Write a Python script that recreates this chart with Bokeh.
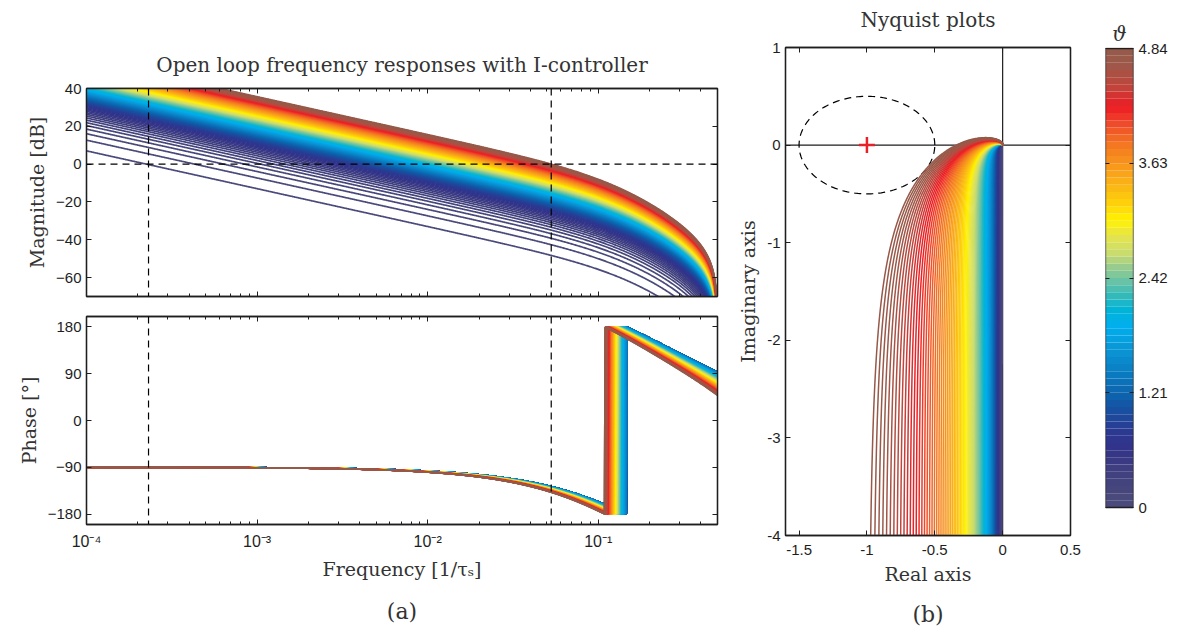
import numpy as np
from bokeh.plotting import figure
from bokeh.layouts import row, column
from bokeh.models import Range1d, FixedTicker, LinearAxis, LogAxis, Span
from bokeh.embed import file_html
from bokeh.resources import INLINE

# ---------------- data ----------------
theta_max = 4.84
theta_step = 0.0484
theta = [k * theta_step for k in range(101)]
# loop gain of every curve relative to the top curve (read from the low-frequency
# magnitude levels and the Nyquist real-axis asymptotes)
gain_rel = [0.0037, 0.0071, 0.0105, 0.0139, 0.0173, 0.0206, 0.0240, 0.0274, 0.0308, 0.0342,
            0.0376, 0.0411, 0.0445, 0.0479, 0.0514, 0.0549, 0.0583, 0.0618, 0.0654, 0.0689,
            0.0725, 0.0761, 0.0798, 0.0835, 0.0872, 0.0910, 0.0948, 0.0987, 0.1026, 0.1066,
            0.1107, 0.1148, 0.1190, 0.1233, 0.1277, 0.1321, 0.1367, 0.1414, 0.1461, 0.1510,
            0.1560, 0.1612, 0.1664, 0.1718, 0.1774, 0.1831, 0.1890, 0.1950, 0.2012, 0.2076,
            0.2142, 0.2209, 0.2279, 0.2351, 0.2425, 0.2501, 0.2580, 0.2662, 0.2745, 0.2832,
            0.2921, 0.3013, 0.3108, 0.3206, 0.3307, 0.3412, 0.3519, 0.3631, 0.3745, 0.3864,
            0.3986, 0.4112, 0.4242, 0.4376, 0.4514, 0.4656, 0.4803, 0.4955, 0.5111, 0.5272,
            0.5438, 0.5609, 0.5785, 0.5966, 0.6153, 0.6346, 0.6544, 0.6748, 0.6958, 0.7174,
            0.7396, 0.7624, 0.7860, 0.8101, 0.8350, 0.8606, 0.8869, 0.9138, 0.9416, 0.9701,
            1.0000]
crossover_freq = 0.053                 # 0 dB crossing of the top curve
theta_knee = 1.3                       # below this the phase shape no longer changes
delay_low, delay_high = 0.20, 0.41     # extra delay [tau_s] at theta_knee and theta_max
lag_low, lag_high = 0.90, 1.10         # double-lag time constant [tau_s] at theta_knee and theta_max
cb_ticks = [0, 1.21, 2.42, 3.63, 4.84]
freq_ticks = [1e-4, 1e-3, 1e-2, 1e-1]
freq_labels = ["10\u207b\u2074", "10\u207b\u00b3", "10\u207b\u00b2", "10\u207b\u00b9"]
mag_ticks = [-60, -40, -20, 0, 20, 40]
phase_ticks = [-180, -90, 0, 90, 180]
re_ticks = [-1.5, -1, -0.5, 0, 0.5]
im_ticks = [-4, -3, -2, -1, 0, 1]
marker_freqs = [2.31e-4, 0.053]
crit_point = (-1.0, 0.0)
circle_radius = 0.5

cmap_pos = [0.0, 0.016, 0.081, 0.132, 0.168, 0.212, 0.248, 0.292, 0.343, 0.394, 0.43, 0.459,
            0.495, 0.524, 0.553, 0.59, 0.626, 0.662, 0.70, 0.75, 0.786, 0.837, 0.873, 0.917, 0.97, 1.0]
cmap_hex = ["#4b4a7c", "#4a4a7c", "#3f3f80", "#32338a", "#2a3a92", "#1850a0", "#0c64ae", "#0a7cc1",
            "#0a95d5", "#00aeef", "#00b4d8", "#2fb9bb", "#6cc3a4", "#99cc8e", "#c8dc6e", "#e5e44f",
            "#fff200", "#fdd20a", "#fbb615", "#f7941d", "#f47b20", "#ef4a2a", "#ed1c24", "#c0453c",
            "#9a5a4a", "#965848"]

# ---------------- frequency responses ----------------
f = np.logspace(-4, np.log10(0.4999), 900)

def resp(fv, K, d, T):
    w = 2 * np.pi * fv
    mag = K / np.tan(np.pi * fv) / (1 + (w * T) ** 2)
    ph = -np.pi / 2 - w * d - 2 * np.arctan(w * T)
    return mag, ph

def shape_of(th):
    s = max(0.0, (th - theta_knee) / (theta_max - theta_knee))
    return delay_low + (delay_high - delay_low) * s, lag_low + (lag_high - lag_low) * s

d_top, T_top = shape_of(theta_max)
m0, _ = resp(np.array([crossover_freq]), 1.0, d_top, T_top)
K_top = 1.0 / m0[0]

def hex2rgb(h):
    return [int(h[i:i + 2], 16) for i in (1, 3, 5)]

rgb = np.array([hex2rgb(h) for h in cmap_hex], dtype=float)

def cmap(t):
    c = [int(round(np.interp(t, cmap_pos, rgb[:, k]))) for k in range(3)]
    return "#%02x%02x%02x" % tuple(c)

mag_xs, mag_ys, ph_ys, ny_xs, ny_ys, cols = [], [], [], [], [], []
for th, g in zip(theta, gain_rel):
    d, T = shape_of(th)
    mag, ph = resp(f, K_top * g, d, T)
    mag_ys.append(list(20 * np.log10(mag)))
    phd = np.degrees(ph)
    ph_ys.append(list(((phd + 180) % 360) - 180))
    L = mag * np.exp(1j * ph)
    keep = L.imag > -6
    ny_xs.append(list(L.real[keep]))
    ny_ys.append(list(L.imag[keep]))
    cols.append(cmap(th / theta_max))
    mag_xs.append(list(f))

# ---------------- styling helpers ----------------
FRAME = "#1e1e1e"
SERIF = "DejaVu Serif"
SANS = "Liberation Sans"

def style(ax, labels=True):
    ax.major_tick_in = 5
    ax.major_tick_out = 0
    ax.minor_tick_in = 3
    ax.minor_tick_out = 0
    ax.axis_line_color = FRAME
    ax.axis_line_width = 1.3
    ax.major_tick_line_color = FRAME
    ax.minor_tick_line_color = FRAME
    ax.major_label_text_font = SANS
    ax.major_label_text_font_size = "15px" if labels else "1px"
    ax.major_label_text_color = "#1e1e1e" if labels else None
    ax.major_label_standoff = 5 if labels else 0
    ax.axis_label_text_font = SERIF
    ax.axis_label_text_font_style = "normal"
    ax.axis_label_text_font_size = "19px"
    ax.axis_label_text_color = "#333333"

def base_fig(**kw):
    p = figure(output_backend="svg", toolbar_location=None, **kw)
    p.xgrid.visible = False
    p.ygrid.visible = False
    p.outline_line_color = FRAME
    p.outline_line_width = 1.3
    p.background_fill_color = "white"
    p.border_fill_color = "white"
    return p

def minor_log():
    return [m * 10.0 ** e for e in range(-4, 0) for m in range(2, 10) if m * 10.0 ** e <= 0.5]

def box_axes(p, xt, yt, xlog=False):
    top = LogAxis(ticker=xt) if xlog else LinearAxis(ticker=xt)
    style(top, labels=False)
    p.add_layout(top, "above")
    right = LinearAxis(ticker=yt)
    style(right, labels=False)
    p.add_layout(right, "right")

def label_axis(p, text, standoff, xlog=False, side="below", size="22px"):
    ax = (LogAxis if xlog else LinearAxis)(ticker=FixedTicker(ticks=[1e-9 if xlog else -99]), axis_label=text)
    style(ax, labels=False)
    ax.axis_line_color = None
    ax.major_tick_line_color = None
    ax.minor_tick_line_color = None
    ax.axis_label_text_font_size = size
    ax.axis_label_standoff = standoff
    p.add_layout(ax, side)

# ---------------- magnitude ----------------
p_mag = base_fig(width=733, height=306, x_axis_type="log",
                 x_range=Range1d(1e-4, 0.5), y_range=Range1d(-70, 40),
                 min_border_left=86, min_border_right=16, min_border_top=88, min_border_bottom=10)
p_mag.xaxis.ticker = FixedTicker(ticks=freq_ticks, minor_ticks=minor_log())
p_mag.yaxis.ticker = FixedTicker(ticks=mag_ticks)
style(p_mag.xaxis[0], labels=False)
style(p_mag.yaxis[0])
p_mag.yaxis.axis_label = "Magnitude [dB]"
box_axes(p_mag, FixedTicker(ticks=freq_ticks, minor_ticks=minor_log()), FixedTicker(ticks=mag_ticks), xlog=True)
label_axis(p_mag, "Open loop frequency responses with I-controller", 12, xlog=True, side="above", size="20px")
p_mag.multi_line(mag_xs, mag_ys, line_color=cols, line_width=1.7)
for fm in marker_freqs:
    p_mag.add_layout(Span(location=fm, dimension="height", line_color="black", line_dash="7 5", line_width=1.2))
p_mag.add_layout(Span(location=0, dimension="width", line_color="black", line_dash="7 5", line_width=1.2))

# ---------------- phase ----------------
p_ph = base_fig(width=733, height=330, x_axis_type="log",
                x_range=Range1d(1e-4, 0.5), y_range=Range1d(-200, 200),
                min_border_left=86, min_border_right=16, min_border_top=10, min_border_bottom=112)
p_ph.xaxis.ticker = FixedTicker(ticks=freq_ticks, minor_ticks=minor_log())
p_ph.yaxis.ticker = FixedTicker(ticks=phase_ticks)
style(p_ph.xaxis[0])
style(p_ph.yaxis[0])
p_ph.xaxis[0].major_label_overrides = dict(zip(freq_ticks, freq_labels))
p_ph.xaxis[0].major_label_text_font_size = "16px"
p_ph.xaxis[0].major_label_standoff = 8
p_ph.xaxis.axis_label = "Frequency [1/\u03c4\u209b]"
p_ph.yaxis.axis_label = "Phase [\u00b0]"
box_axes(p_ph, FixedTicker(ticks=freq_ticks, minor_ticks=minor_log()), FixedTicker(ticks=phase_ticks), xlog=True)
p_ph.multi_line(mag_xs, ph_ys, line_color=cols, line_width=1.7)
for fm in marker_freqs:
    p_ph.add_layout(Span(location=fm, dimension="height", line_color="black", line_dash="7 5", line_width=1.2))
label_axis(p_ph, "(a)", 16, xlog=True)

# ---------------- Nyquist ----------------
p_ny = base_fig(width=357, height=636, x_range=Range1d(-1.6, 0.5), y_range=Range1d(-4, 1),
                min_border_left=52, min_border_right=20, min_border_top=47, min_border_bottom=101)
p_ny.xaxis.ticker = FixedTicker(ticks=re_ticks)
p_ny.yaxis.ticker = FixedTicker(ticks=im_ticks)
style(p_ny.xaxis[0])
style(p_ny.yaxis[0])
p_ny.xaxis[0].major_label_standoff = 9
p_ny.xaxis[0].major_label_overrides = {t: ("%g" % t) for t in re_ticks}
p_ny.yaxis[0].major_label_overrides = {t: ("%g" % t) for t in im_ticks}
p_ny.xaxis.axis_label = "Real axis"
p_ny.yaxis.axis_label = "Imaginary axis"
box_axes(p_ny, FixedTicker(ticks=re_ticks), FixedTicker(ticks=im_ticks))
label_axis(p_ny, "Nyquist plots", 16, side="above", size="20px")
p_ny.add_layout(Span(location=0, dimension="width", line_color=FRAME, line_width=1.2, level="underlay"))
p_ny.add_layout(Span(location=0, dimension="height", line_color=FRAME, line_width=1.2, level="underlay"))
ang = np.linspace(0, 2 * np.pi, 200)
p_ny.line(list(crit_point[0] + circle_radius * np.cos(ang)), list(crit_point[1] + circle_radius * np.sin(ang)),
          line_color="black", line_dash="7 5", line_width=1.2)
p_ny.multi_line(ny_xs, ny_ys, line_color=cols, line_width=1.5)
p_ny.scatter([crit_point[0]], [crit_point[1]], marker="cross", size=16, line_color="#e8202a", line_width=2.5)
label_axis(p_ny, "(b)", 14)

# ---------------- colorbar ----------------
px_per_unit = 459 / theta_max
p_cb = base_fig(width=89, height=636, x_range=Range1d(0, 1),
                y_range=Range1d(-28 / px_per_unit, theta_max + 1 / px_per_unit),
                min_border_left=15, min_border_right=46, min_border_top=47, min_border_bottom=101)
p_cb.outline_line_color = None
nlev = 64
edges = np.linspace(0, theta_max, nlev + 1)
p_cb.quad(left=0, right=1, bottom=list(edges[:-1]), top=list(edges[1:]),
          fill_color=[cmap((i + 0.5) / nlev) for i in range(nlev)], line_color=None)
p_cb.quad(left=[0], right=[1], bottom=[0], top=[theta_max], fill_color=None, line_color=FRAME, line_width=1.3)
p_cb.xaxis.visible = False
p_cb.yaxis.ticker = FixedTicker(ticks=cb_ticks)
style(p_cb.yaxis[0], labels=False)
p_cb.yaxis[0].major_tick_in = 4
p_cb.yaxis[0].axis_line_color = None
rax = LinearAxis(ticker=FixedTicker(ticks=cb_ticks))
style(rax)
rax.major_tick_in = 4
rax.axis_line_color = None
rax.major_label_overrides = {t: ("%g" % t) for t in cb_ticks}
p_cb.add_layout(rax, "right")
p_cb.title.text = "\u03d1"
p_cb.title.align = "center"
p_cb.title.text_font = SERIF
p_cb.title.text_font_style = "italic"
p_cb.title.text_font_size = "20px"
p_cb.title.text_color = "#333333"
p_cb.title.standoff = 4

layout = row(column(p_mag, p_ph), p_ny, p_cb)
open("out.html", "w").write(file_html(layout, INLINE))
